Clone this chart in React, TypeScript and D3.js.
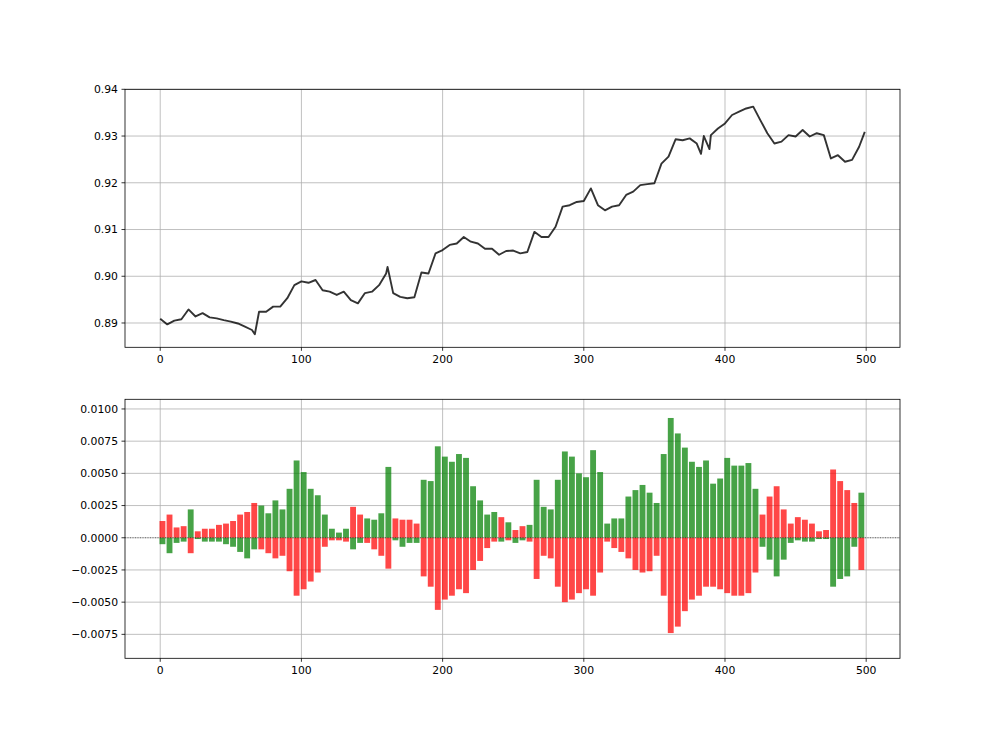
import React from "react";
import * as d3 from "d3";

// price panel samples (bar index, close)
const priceIdx: number[] = [
  0, 5, 10, 15, 20, 25, 30, 35, 40, 45,
  50, 55, 60, 65, 67, 70, 75, 80, 85, 90, 95,
  100, 105, 110, 115, 120, 125, 130, 135, 140, 145,
  150, 155, 160, 161, 165, 170, 175, 180, 185, 190, 195,
  200, 205, 210, 215, 220, 225, 230, 235, 240, 245,
  250, 255, 260, 265, 270, 275, 280, 285, 290, 295,
  300, 305, 310, 315, 320, 325, 330, 335, 340, 345,
  350, 355, 360, 365, 370, 375, 380, 383, 385, 389, 390, 395,
  400, 405, 410, 415, 420, 425, 430, 435, 440, 445,
  450, 455, 460, 465, 470, 475, 480, 485, 490, 495,
  499,
];
const closeVals: number[] = [
  0.8909, 0.8897, 0.8905, 0.8908, 0.8929, 0.8914, 0.8921, 0.8912, 0.8910, 0.8906,
  0.8903, 0.8899, 0.8892, 0.8885, 0.8876, 0.8924, 0.8924, 0.8935, 0.8935, 0.8953, 0.8981,
  0.8989, 0.8986, 0.8992, 0.8970, 0.8967, 0.8960, 0.8967, 0.8949, 0.8942, 0.8964,
  0.8967, 0.8981, 0.9006, 0.9020, 0.8964, 0.8956, 0.8953, 0.8955, 0.9008, 0.9006, 0.9049,
  0.9056, 0.9067, 0.9070, 0.9084, 0.9074, 0.9070, 0.9059, 0.9059, 0.9046, 0.9054,
  0.9055, 0.9049, 0.9052, 0.9095, 0.9084, 0.9084, 0.9106, 0.9149, 0.9152, 0.9159,
  0.9161, 0.9188, 0.9152, 0.9141, 0.9149, 0.9152, 0.9174, 0.9181, 0.9195, 0.9197,
  0.9199, 0.9241, 0.9256, 0.9293, 0.9291, 0.9295, 0.9284, 0.9262, 0.9300, 0.9272, 0.9302, 0.9316,
  0.9327, 0.9345, 0.9352, 0.9359, 0.9363, 0.9334, 0.9306, 0.9284, 0.9288, 0.9302,
  0.9299, 0.9313, 0.9299, 0.9306, 0.9302, 0.9252, 0.9259, 0.9245, 0.9249, 0.9277,
  0.9309,
];

// indicator panel samples (every 5th bar)
const barIdx: number[] = d3.range(0, 500, 5);
const upperVals: number[] = [
  0.0013, 0.0018, 0.0008, 0.0009, 0.0022, 0.0005, 0.0007, 0.0007, 0.0010, 0.0011,
  0.0013, 0.0018, 0.0020, 0.0027, 0.0025, 0.0019, 0.0029, 0.0022, 0.0038, 0.0060,
  0.0051, 0.0038, 0.0033, 0.0018, 0.0007, 0.0004, 0.0007, 0.0024, 0.0018, 0.0015,
  0.0014, 0.0019, 0.0055, 0.0015, 0.0014, 0.0014, 0.0011, 0.0045, 0.0044, 0.0071,
  0.0063, 0.0059, 0.0065, 0.0062, 0.0040, 0.0029, 0.0018, 0.0020, 0.0016, 0.0012,
  0.0006, 0.0009, 0.0010, 0.0045, 0.0024, 0.0022, 0.0045, 0.0067, 0.0063, 0.0050,
  0.0047, 0.0068, 0.0051, 0.0011, 0.0015, 0.0015, 0.0032, 0.0037, 0.0041, 0.0035,
  0.0027, 0.0065, 0.0093, 0.0081, 0.0070, 0.0059, 0.0055, 0.0060, 0.0042, 0.0046,
  0.0062, 0.0056, 0.0056, 0.0058, 0.0038, 0.0018, 0.0032, 0.0040, 0.0022, 0.0011,
  0.0016, 0.0014, 0.0011, 0.0005, 0.0006, 0.0053, 0.0044, 0.0037, 0.0027, 0.0035,
];
const lowerVals: number[] = [
  -0.0005, -0.0012, -0.0004, -0.0003, -0.0012, -0.0001, -0.0003, -0.0003, -0.0003, -0.0005,
  -0.0007, -0.0011, -0.0016, -0.0009, -0.0009, -0.0012, -0.0016, -0.0014, -0.0026, -0.0045,
  -0.0040, -0.0034, -0.0027, -0.0007, -0.0002, -0.0002, -0.0003, -0.0009, -0.0004, -0.0004,
  -0.0009, -0.0014, -0.0024, -0.0002, -0.0007, -0.0004, -0.0004, -0.0030, -0.0038, -0.0056,
  -0.0048, -0.0045, -0.0040, -0.0043, -0.0025, -0.0018, -0.0008, -0.0003, -0.0003, -0.0002,
  -0.0004, -0.0002, -0.0003, -0.0032, -0.0014, -0.0016, -0.0038, -0.0050, -0.0048, -0.0043,
  -0.0040, -0.0045, -0.0027, -0.0003, -0.0008, -0.0011, -0.0016, -0.0025, -0.0027, -0.0026,
  -0.0014, -0.0045, -0.0074, -0.0069, -0.0057, -0.0048, -0.0045, -0.0038, -0.0038, -0.0040,
  -0.0043, -0.0045, -0.0045, -0.0043, -0.0027, -0.0007, -0.0017, -0.0030, -0.0017, -0.0004,
  -0.0002, -0.0003, -0.0003, -0.0001, -0.0001, -0.0038, -0.0032, -0.0030, -0.0007, -0.0025,
];
// regime per sample: 'g' => upper green / lower red, 'r' => upper red / lower green
const regime: string[] = (
  "rrrrgrrrrr" + "rrrrgggggg" + "gggggggrrg" + "gggrrrrggg" + "ggggggggrg" +
  "rrgggggggg" + "gggggggggg" + "gggggggggg" + "gggggrrrrr" + "rrrrrrrrrg"
).split("");

const priceTicks: number[] = [0.89, 0.9, 0.91, 0.92, 0.93, 0.94];
const indTicks: number[] = [-0.0075, -0.005, -0.0025, 0, 0.0025, 0.005, 0.0075, 0.01];
const xTicks: number[] = [0, 100, 200, 300, 400, 500];

const GREEN = "#008000";
const RED = "#ff0000";
const FONT = "'DejaVu Sans', sans-serif";

export default function App() {
  const L = 125, R = 900;
  const top1 = 89.3, bot1 = 347.3;
  const top2 = 399.3, bot2 = 658.3;
  const x = d3.scaleLinear().domain([-24.95, 523.95]).range([L, R]);
  const y1 = d3.scaleLinear().domain([0.8848, 0.94]).range([bot1, top1]);
  const y2 = d3.scaleLinear().domain([-0.00936, 0.01075]).range([bot2, top2]);

  const line = d3
    .line<number>()
    .x((_, i) => x(priceIdx[i]))
    .y((d) => y1(d))
    .curve(d3.curveLinear);

  const step = x(5) - x(0);
  const bw = step - 1.2;
  const grid = "#b0b0b0";

  const yAxis = (ticks: number[], y: any, fmt: (v: number) => string) =>
    ticks.map((t) => (
      <g key={t}>
        <line x1={L - 3.5} x2={L} y1={y(t)} y2={y(t)} stroke="#000" strokeWidth={0.8} />
        <text x={L - 7} y={y(t)} dy="0.35em" textAnchor="end" fontFamily={FONT} fontSize={10.8} fill="#000">
          {fmt(t)}
        </text>
      </g>
    ));

  const xAxis = (bottom: number) =>
    xTicks.map((t) => (
      <g key={t}>
        <line x1={x(t)} x2={x(t)} y1={bottom} y2={bottom + 3.5} stroke="#000" strokeWidth={0.8} />
        <text x={x(t)} y={bottom + 7} dy="0.8em" textAnchor="middle" fontFamily={FONT} fontSize={10.8} fill="#000">
          {t}
        </text>
      </g>
    ));

  const fmtNeg = (s: string) => s.replace("-", "\u2212");

  return (
    <svg width={1000} height={740} style={{ position: "absolute", left: 0, top: 0, background: "#fff" }}>
      <rect x={0} y={0} width={1000} height={740} fill="#fff" />
      {/* ---------- top panel ---------- */}
      <g>
        {xTicks.map((t) => (
          <line key={"gx1" + t} x1={x(t)} x2={x(t)} y1={top1} y2={bot1} stroke={grid} strokeWidth={0.8} />
        ))}
        {priceTicks.map((t) => (
          <line key={"gy1" + t} x1={L} x2={R} y1={y1(t)} y2={y1(t)} stroke={grid} strokeWidth={0.8} />
        ))}
        <path d={line(closeVals) || ""} fill="none" stroke="#000" strokeWidth={1.9} strokeOpacity={0.8} strokeLinejoin="round" />
        <rect x={L} y={top1} width={R - L} height={bot1 - top1} fill="none" stroke="#000" strokeWidth={0.8} />
        {yAxis(priceTicks, y1, (v) => v.toFixed(2))}
        {xAxis(bot1)}
      </g>
      {/* ---------- bottom panel ---------- */}
      <g>
        {xTicks.map((t) => (
          <line key={"gx2" + t} x1={x(t)} x2={x(t)} y1={top2} y2={bot2} stroke={grid} strokeWidth={0.8} />
        ))}
        {indTicks.map((t) => (
          <line key={"gy2" + t} x1={L} x2={R} y1={y2(t)} y2={y2(t)} stroke={grid} strokeWidth={0.8} />
        ))}
        {barIdx.map((i, k) => {
          const up = upperVals[k];
          const lo = lowerVals[k];
          const g = regime[k] === "g";
          const x0 = x(i) - 0.7;
          return (
            <g key={"b" + i}>
              <rect x={x0} y={y2(up)} width={bw} height={y2(0) - y2(up)} fill={g ? GREEN : RED} fillOpacity={0.72} />
              <rect x={x0} y={y2(0)} width={bw} height={y2(lo) - y2(0)} fill={g ? RED : GREEN} fillOpacity={0.72} />
            </g>
          );
        })}
        <line x1={L} x2={R} y1={y2(0)} y2={y2(0)} stroke="#000" strokeWidth={0.7} strokeDasharray="1,1.5" strokeOpacity={0.7} />
        <rect x={L} y={top2} width={R - L} height={bot2 - top2} fill="none" stroke="#000" strokeWidth={0.8} />
        {yAxis(indTicks, y2, (v) => fmtNeg(v.toFixed(4)))}
        {xAxis(bot2)}
      </g>
    </svg>
  );
}
